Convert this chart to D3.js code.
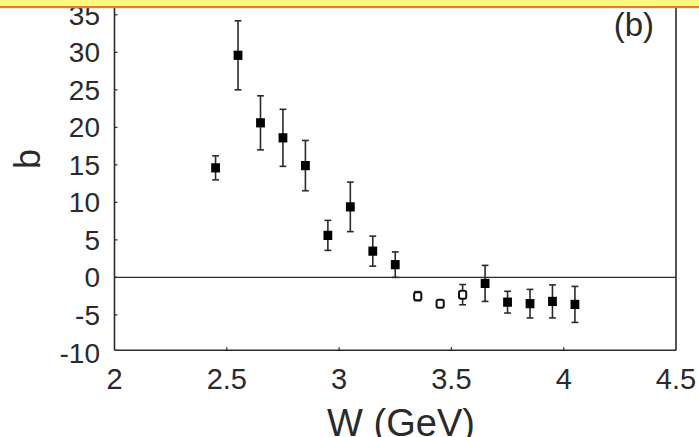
<!DOCTYPE html>
<html><head><meta charset="utf-8">
<script src="https://cdn.jsdelivr.net/npm/d3@7/dist/d3.min.js"></script>
<style>
html,body{margin:0;padding:0;background:#fff;}
svg{display:block;font-family:"Liberation Sans",Arial,sans-serif;}
</style></head>
<body><svg id="c" width="699" height="437"></svg>
<script>
// Data
const W      = [2.45, 2.55, 2.65, 2.75, 2.85, 2.95, 3.05, 3.15, 3.25, 3.35, 3.45, 3.55, 3.65, 3.75, 3.85, 3.95, 4.05];
const bVal   = [14.6, 29.6, 20.6, 18.6, 14.9, 5.6, 9.4, 3.5, 1.7, -2.5, -3.5, -2.3, -0.8, -3.3, -3.5, -3.2, -3.6];
const bErr   = [1.6, 4.6, 3.6, 3.8, 3.35, 2.0, 3.3, 2.0, 1.7, 0.6, 0.4, 1.35, 2.4, 1.45, 1.9, 2.2, 2.4];
const hollow = [false,false,false,false,false,false,false,false,false,true,true,true,false,false,false,false,false];
const xTicks = [2, 2.5, 3, 3.5, 4, 4.5];
const xTickLabels = ["2", "2.5", "3", "3.5", "4", "4.5"];
const yTicks = [-10, -5, 0, 5, 10, 15, 20, 25, 30, 35];
const yTickLabels = ["-10", "-5", "0", "5", "10", "15", "20", "25", "30", "35"];

const svg = d3.select("#c");
const ink = "#2a2a2a";
const x = d3.scaleLinear().domain([2, 4.5]).range([114.5, 676]);
const y = d3.scaleLinear().domain([0, 30]).range([277.4, 52.3]);
const yBottom = -9.7;
const yTopPx = 0;

// frame: left, bottom, right
const g = svg.append("g");
g.append("line").attr("x1", x(2)).attr("x2", x(2)).attr("y1", yTopPx).attr("y2", y(yBottom))
  .attr("stroke", ink).attr("stroke-width", 1.6);
g.append("line").attr("x1", x(4.5)).attr("x2", x(4.5)).attr("y1", yTopPx).attr("y2", y(yBottom))
  .attr("stroke", ink).attr("stroke-width", 1.6);
g.append("line").attr("x1", x(2)).attr("x2", x(4.5)).attr("y1", y(yBottom)).attr("y2", y(yBottom))
  .attr("stroke", ink).attr("stroke-width", 1.6);
// zero line
g.append("line").attr("x1", x(2)).attr("x2", x(4.5)).attr("y1", y(0)).attr("y2", y(0))
  .attr("stroke", ink).attr("stroke-width", 1.4);

// y ticks (inward)
yTicks.forEach((t, i) => {
  if (t > -10) {
    g.append("line").attr("x1", x(2)).attr("x2", x(2) + 3).attr("y1", y(t)).attr("y2", y(t))
      .attr("stroke", ink).attr("stroke-width", 1.2);
  }
  g.append("text").attr("x", 100).attr("y", y(t)).attr("dy", "0.36em")
    .attr("text-anchor", "end").attr("font-size", 28).attr("fill", ink).text(yTickLabels[i]);
});
// x ticks (inward)
xTicks.forEach((t, i) => {
  if (t > 2 && t < 4.5) {
    g.append("line").attr("x1", x(t)).attr("x2", x(t)).attr("y1", y(yBottom)).attr("y2", y(yBottom) - 3)
      .attr("stroke", ink).attr("stroke-width", 1.2);
  }
  g.append("text").attr("x", x(t)).attr("y", 389)
    .attr("text-anchor", "middle").attr("font-size", 29).attr("fill", ink).text(xTickLabels[i]);
});

// axis titles
svg.append("text").attr("x", 401).attr("y", 436).attr("text-anchor", "middle")
  .attr("font-size", 38).attr("fill", ink).text("W (GeV)");
svg.append("text").attr("transform", "translate(40,159) rotate(-90)").attr("text-anchor", "middle")
  .attr("font-size", 36).attr("fill", ink).text("b");
svg.append("text").attr("x", 654).attr("y", 36).attr("text-anchor", "end")
  .attr("font-size", 33).attr("fill", ink).text("(b)");

// error bars
const pts = W.map((w, i) => ({w, v: bVal[i], e: bErr[i], h: hollow[i]}));
const eb = svg.append("g").attr("stroke", ink).attr("stroke-width", 1.6);
pts.forEach(p => {
  const cx = x(p.w);
  eb.append("line").attr("x1", cx).attr("x2", cx).attr("y1", y(p.v + p.e)).attr("y2", y(p.v - p.e));
  [p.v + p.e, p.v - p.e].forEach(v => {
    eb.append("line").attr("x1", cx - 3.4).attr("x2", cx + 3.4).attr("y1", y(v)).attr("y2", y(v));
  });
});
// markers
svg.append("g").selectAll("rect").data(pts).join("rect")
  .attr("x", d => x(d.w) - (d.h ? 3.6 : 4.4))
  .attr("y", d => y(d.v) - (d.h ? 4 : 4.6))
  .attr("width", d => d.h ? 7.2 : 8.8)
  .attr("height", d => d.h ? 8 : 9.2)
  .attr("rx", d => d.h ? 2 : 0)
  .attr("fill", d => d.h ? "#fff" : "#000")
  .attr("stroke", d => d.h ? "#111" : "none")
  .attr("stroke-width", 2);

// top highlight band
svg.append("rect").attr("x", 0).attr("y", 0).attr("width", 699).attr("height", 7).attr("fill", "#fff77e");
svg.append("rect").attr("x", 0).attr("y", 6).attr("width", 699).attr("height", 2.2).attr("fill", "#d9822b");
</script></body></html>
